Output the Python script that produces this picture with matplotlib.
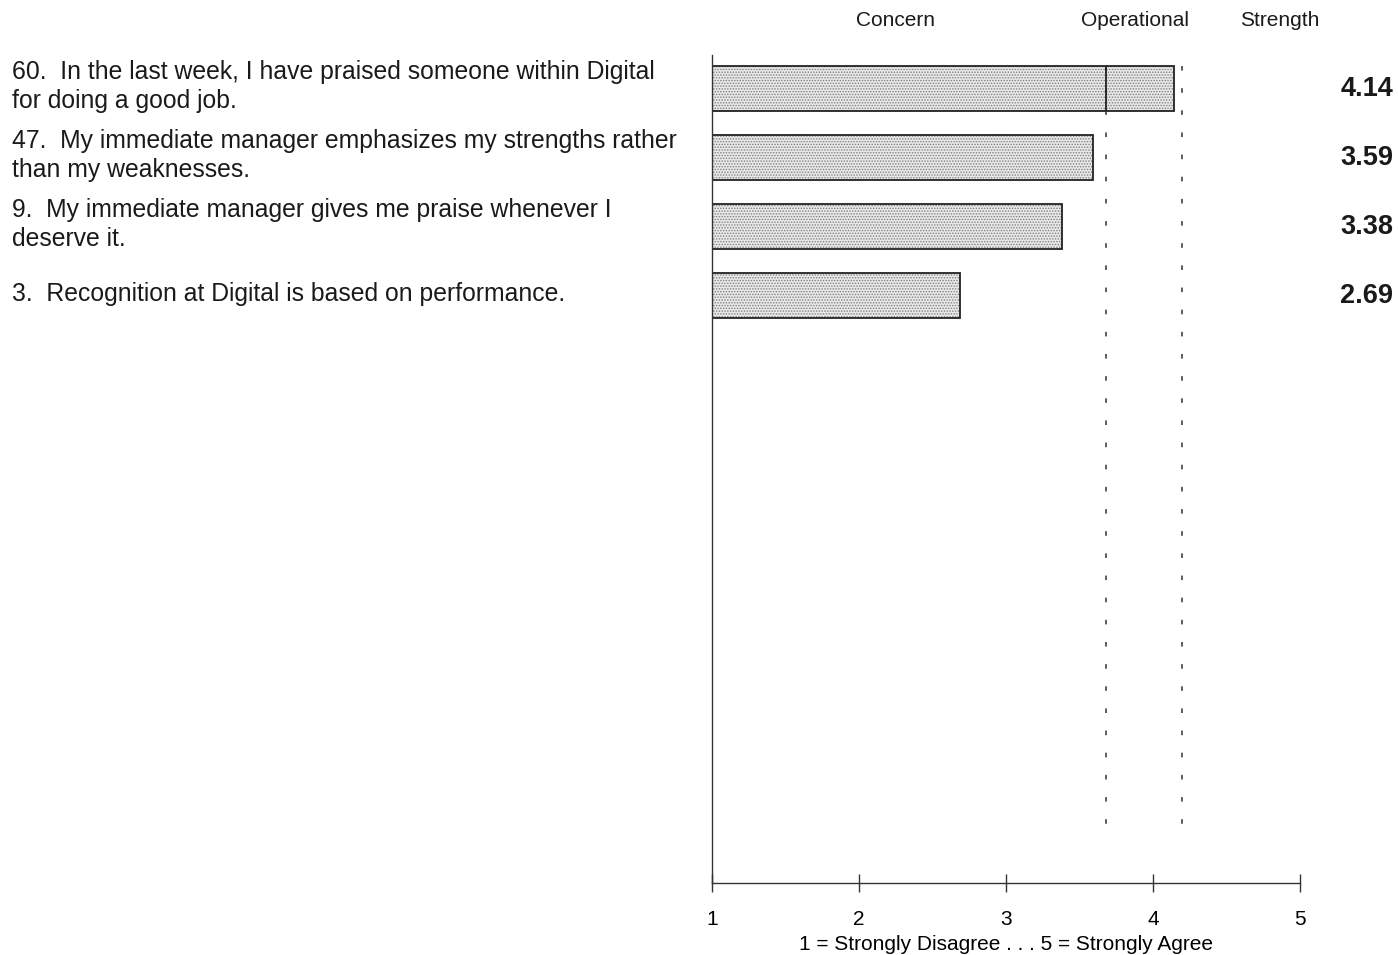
import matplotlib

matplotlib.use("Agg")

import matplotlib.pyplot as plt
import matplotlib.transforms as mtransforms

items = [
    "60.  In the last week, I have praised someone within Digital\nfor doing a good job.",
    "47.  My immediate manager emphasizes my strengths rather\nthan my weaknesses.",
    "9.  My immediate manager gives me praise whenever I\ndeserve it.",
    "3.  Recognition at Digital is based on performance.",
]
scores = [4.14, 3.59, 3.38, 2.69]
operational = 3.68
strength = 4.2
zones = ["Concern", "Operational", "Strength"]
zone_x = [2.25, 3.88, 4.86]
ticks = [1, 2, 3, 4, 5]

plt.rcParams["font.family"] = ["Liberation Sans", "DejaVu Sans"]
plt.rcParams["hatch.color"] = "#808080"
plt.rcParams["hatch.linewidth"] = 0.7

fig = plt.figure(figsize=(13.98, 9.55), dpi=100)
ax = fig.add_axes([712 / 1398, 1 - 883 / 955, 588 / 1398, 828 / 955])

ypos = list(range(len(scores)))
widths = [s - 1 for s in scores]
# stippled fill, then black outline on top
ax.barh(ypos, widths, left=1, height=0.66, color="#e8e8e8", edgecolor="#808080",
        hatch="......", linewidth=0)
ax.barh(ypos, widths, left=1, height=0.66, fill=False, edgecolor="#222222", linewidth=1.3)

# threshold lines
ax.vlines([operational, strength], -0.33, 10.85, colors="#333333", linewidth=1.1,
          linestyles=[(0, (3, 11.5))])
ax.vlines(operational, -0.33, 0.33, colors="#222222", linewidth=1.3)

ax.set_xlim(1, 5)
ax.set_ylim(11.51, -0.486)
ax.set_yticks([])
ax.set_xticks(ticks)
ax.set_xticklabels([str(t) for t in ticks], fontsize=15)
ax.tick_params(axis="x", direction="inout", length=13, width=1, pad=13, color="#333333")
ax.set_xlabel("1 = Strongly Disagree . . . 5 = Strongly Agree", fontsize=15, labelpad=4.5)
for side in ("top", "right"):
    ax.spines[side].set_visible(False)
ax.spines["left"].set_linewidth(1)
ax.spines["bottom"].set_linewidth(1)
ax.spines["left"].set_color("#333333")
ax.spines["bottom"].set_color("#333333")
ax.patch.set_alpha(0)

# zone headers above plot
top_trans = mtransforms.blended_transform_factory(ax.transData, ax.transAxes)
for name, x in zip(zones, zone_x):
    ax.text(x, 1.0 + 34 / 828, name, transform=top_trans,
            ha="center", va="center", fontsize=15, color="#1a1a1a")

# item text on the left, score on the right
trans_left = mtransforms.blended_transform_factory(fig.transFigure, ax.transData)
for y, text, s in zip(ypos, items, scores):
    fig.text(12 / 1398, y - 0.03, text, transform=trans_left, ha="left", va="center",
             fontsize=17.8, linespacing=1.27, color="#1a1a1a")
    fig.text(1393 / 1398, y, f"{s:.2f}", transform=trans_left, ha="right", va="center",
             fontsize=19.5, fontweight="bold", color="#1a1a1a")

fig.savefig("out.png", dpi=100)
